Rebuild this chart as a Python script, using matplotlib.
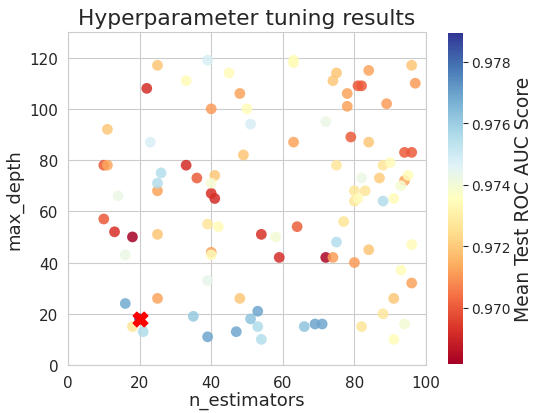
import matplotlib
matplotlib.use("Agg")
import matplotlib.pyplot as plt
import seaborn as sns
import numpy as np

sns.set_style("whitegrid")
plt.rcParams['font.family'] = ['DejaVu Sans']

n_estimators = [18, 72,
                22, 13, 33, 41, 40, 59, 54,
                10, 36, 10, 81, 82, 79, 94, 96, 64,
                48, 40, 11, 25, 40, 25, 78, 78, 89, 84, 97, 63, 74, 80, 96, 94,
                25, 11, 49, 41, 25, 48, 75, 74, 96, 84, 84, 91, 87,
                39, 77, 75, 88, 80, 83, 82, 88, 18, 80,
                33, 45, 50, 42, 63, 63, 90, 95, 96, 93, 91, 91, 81, 40,
                40, 93, 58, 94,
                14, 16, 39, 72, 82,
                39, 51, 23,
                25, 26, 21, 75, 53, 54, 88,
                35, 66, 51,
                16, 53, 39, 47, 69, 71,
                20]
max_depth = [50, 42,
             108, 52, 78, 65, 67, 42, 51,
             78, 73, 57, 109, 109, 89, 83, 83, 54,
             106, 100, 78, 68, 44, 26, 106, 101, 102, 115, 110, 87, 42, 40, 32, 72,
             117, 92, 82, 74, 51, 26, 114, 111, 117, 87, 45, 26, 73,
             55, 56, 78, 78, 68, 68, 15, 20, 15, 64,
             111, 114, 100, 54, 119, 118, 79, 74, 47, 37, 10, 65, 65, 43,
             71, 70, 50, 16,
             66, 43, 33, 95, 73,
             119, 94, 87,
             71, 75, 13, 48, 15, 10, 64,
             19, 15, 18,
             24, 21, 11, 13, 16, 16,
             18]
scores = [0.96817, 0.96830,
          0.96920, 0.96925, 0.96915, 0.96920, 0.96925, 0.96920, 0.96930,
          0.97000, 0.97005, 0.96995, 0.97000, 0.97000, 0.97005, 0.97000, 0.97000, 0.97010,
          0.97120, 0.97115, 0.97130, 0.97120, 0.97120, 0.97125, 0.97120, 0.97120, 0.97115, 0.97125, 0.97110, 0.97125, 0.97115, 0.97115, 0.97120, 0.97125,
          0.97190, 0.97195, 0.97190, 0.97195, 0.97190, 0.97195, 0.97190, 0.97195, 0.97190, 0.97195, 0.97190, 0.97195, 0.97200,
          0.97270, 0.97265, 0.97270, 0.97270, 0.97275, 0.97270, 0.97270, 0.97275, 0.97270, 0.97275,
          0.97340, 0.97340, 0.97345, 0.97340, 0.97345, 0.97340, 0.97340, 0.97345, 0.97340, 0.97345, 0.97345, 0.97340, 0.97340, 0.97340,
          0.97390, 0.97390, 0.97395, 0.97395,
          0.97430, 0.97430, 0.97435, 0.97430, 0.97430,
          0.97480, 0.97485, 0.97480,
          0.97550, 0.97550, 0.97560, 0.97550, 0.97560, 0.97550, 0.97555,
          0.97610, 0.97620, 0.97620,
          0.97680, 0.97690, 0.97690, 0.97690, 0.97695, 0.97690,
          0.97893]

best_n, best_depth = 20, 18

W, H = 534, 414
fig = plt.figure(figsize=(W/100, H/100), dpi=100)
ax = fig.add_axes([68/W, (H-366)/H, (426-68)/W, (366-33)/H])
cax = fig.add_axes([448/W, (H-365)/H, 15/W, (365-34)/H])

sc = ax.scatter(n_estimators, max_depth, c=scores, cmap='RdYlBu', s=60,
                alpha=0.85, edgecolors='none',
                vmin=min(scores), vmax=max(scores))
ax.scatter([best_n], [best_depth], marker='X', color='red', s=110, zorder=5)

ax.set_xlim(0, 100)
ax.set_ylim(0, 130)
ax.set_xticks([0, 20, 40, 60, 80, 100])
ax.set_yticks([0, 20, 40, 60, 80, 100, 120])
ax.tick_params(labelsize=11)
ax.set_xlabel('n_estimators', fontsize=13, labelpad=1)
ax.set_ylabel('max_depth', fontsize=13)
ax.set_title('Hyperparameter tuning results', fontsize=15.7)

cb = fig.colorbar(sc, cax=cax)
cb.solids.set_alpha(1)
cb.outline.set_visible(False)
cb.set_ticks([0.970, 0.972, 0.974, 0.976, 0.978])
cb.ax.tick_params(labelsize=10, pad=2)
cb.set_label('Mean Test ROC AUC Score', fontsize=13.5, labelpad=3)

fig.savefig('out.png', dpi=100)
